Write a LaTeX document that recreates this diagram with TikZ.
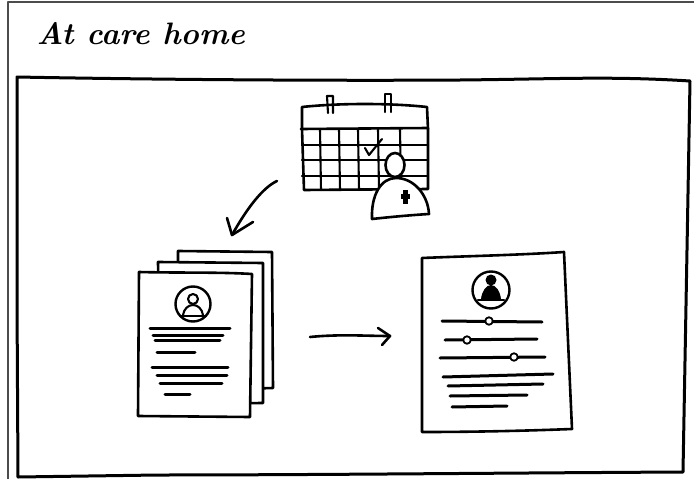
\documentclass[tikz,border=0pt]{standalone}
\begin{document}
\begin{tikzpicture}[x=1pt,y=-1pt,line cap=round,line join=round,
  ink/.style={line width=2.6pt,black},
  thin ink/.style={line width=2.1pt,black},
  paper/.style={ink,fill=white},
  textline/.style={line width=3pt,black},
  knob/.style={circle,draw,line width=1.8pt,fill=white,inner sep=0pt,minimum size=7.5pt}]
\useasboundingbox (0,0) rectangle (694,479);
\fill[white] (0,0) rectangle (694,479);

% scanned page edge
\draw[black!70,line width=1.6pt,line cap=butt] (8,479) -- (8,2) -- (694,2);

% title
\node[anchor=base west,font=\fontsize{31}{31}\selectfont\bfseries\itshape] (title) at (33,44) {At care home};

% panel frame
\draw[line width=3pt] (17,77) .. controls (120,79) and (300,81) .. (460,80)
  .. controls (560,79) and (610,76) .. (690,81)
  -- (687,250) -- (683,472)
  .. controls (500,473) and (300,475) .. (158,475)
  -- (18,477) -- (17,300) -- cycle;

% ---------- calendar ----------
\begin{scope}
  \draw[ink] (302,129) .. controls (302,118) and (302,112) .. (302,107)
    .. controls (340,103) and (390,103) .. (427,107) -- (428,129);
  \draw[ink] (301,129) -- (428,128);
  \foreach \y in {145,160,176} \draw[thin ink] (302,\y) -- (428,\y);
  \draw[ink] (302,129) -- (304,190) -- (428,189) -- (428,129);
  \foreach \x in {320,339,358,378,400} \draw[thin ink] (\x,129) -- (\x+1,190);
  % rings
  \draw[thin ink] (328,113) -- (327,96) -- (333,96) -- (333,113);
  \draw[thin ink] (385,112) -- (385,94) -- (391,94) -- (391,112);
  % tick
  \draw[thin ink] (365,148) -- (369,155) -- (382,139);
\end{scope}

% nurse
\draw[paper] (372,219) .. controls (371,195) and (381,178) .. (396,178)
  .. controls (414,178) and (428,195) .. (429,214)
  .. controls (412,215) and (390,217) .. (372,219) -- cycle;
\draw[paper] (395,165) ellipse [x radius=9.5,y radius=12];
\fill (401,194) rectangle (410,199);
\fill (403,190) rectangle (408,204);

% arrow towards the records
\coordinate (a1s) at (277,181);
\coordinate (a1e) at (232,235);
\draw[ink] (a1s) .. controls (262,188) and (246,210) .. (a1e);
\draw[ink] (227,218) -- (a1e) -- (253,222);

% ---------- stack of paper records ----------
\draw[paper] (178,251) -- (272,252) -- (273,388) -- (200,390) -- (178,390) -- cycle;
\draw[paper] (158,262) -- (263,263) -- (263,403) -- (160,404) -- cycle;
\draw[paper] (139,272) .. controls (180,273) and (220,272) .. (252,274)
  -- (250,417) -- (138,416) -- cycle;
\node[circle,draw,line width=2.4pt,minimum size=35pt,inner sep=0pt] (av1) at (193,304) {};
\draw[thin ink] (183,315) .. controls (184,309) and (188,305) .. (193,305)
  .. controls (198,305) and (202,309) .. (203,315);
\draw[thin ink] (180,316) -- (206,316);
\draw[thin ink] (193,299) circle [radius=5];
\foreach \y/\a/\b in {328/150/230,335/153/223,340/155/220,352/157/195,
                      367/152/228,375/157/227,383/160/222,394/165/190}
  \draw[textline] (\a,\y) -- (\b,\y);

% arrow towards the digital record
\coordinate (a2s) at (310,337);
\coordinate (a2e) at (390,336);
\draw[ink] (a2s) .. controls (340,334) and (365,336) .. (a2e);
\draw[ink] (378,328) -- (a2e) -- (382,345);

% ---------- digital record ----------
\draw[paper] (422,258) .. controls (470,256) and (520,255) .. (564,252)
  -- (572,429) .. controls (520,431) and (470,432) .. (422,432) -- cycle;
\node[circle,draw,line width=2.4pt,minimum size=37pt,inner sep=0pt] (av2) at (491,290) {};
\fill (481,299) .. controls (482,291) and (486,285) .. (491,285)
  .. controls (496,285) and (500,291) .. (501,299) -- cycle;
\fill (491,280) circle [radius=5.5];
\draw[thin ink] (478,300) -- (504,300);
\draw[textline] (442,321) -- (542,322);
\draw[textline] (445,340) -- (537,339);
\draw[textline] (440,358) -- (545,357);
\node[knob] (k1) at (489,321) {};
\node[knob] (k2) at (467,340) {};
\node[knob] (k3) at (514,357) {};
\draw[textline] (443,377) -- (553,374);
\draw[textline] (448,386) -- (543,384);
\draw[textline] (450,396) -- (527,395);
\draw[textline] (452,407) -- (507,406);
\end{tikzpicture}
\end{document}
